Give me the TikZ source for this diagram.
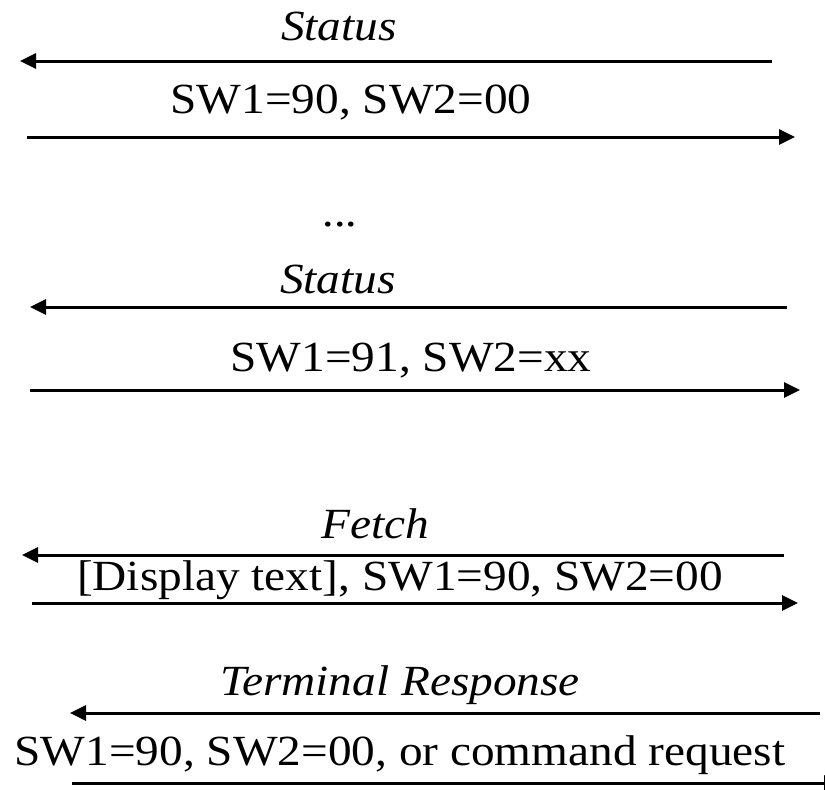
\documentclass[tikz,border=0pt]{standalone}
\usepackage{fontspec}
\setmainfont{Liberation Serif}[FakeStretch=1.1]
\usetikzlibrary{arrows.meta}

\begin{document}
\begin{tikzpicture}[x=1pt, y=-1pt,
    msg/.style={line width=3pt, -{Triangle[length=16pt,width=15pt]}},
    lbl/.style={anchor=base, inner sep=0pt, font=\fontsize{43}{48}\selectfont},
    cmd/.style={lbl, font=\fontsize{43}{48}\selectfont\itshape},
]
\useasboundingbox (0,0) rectangle (825,790);
\clip (0,0) rectangle (825,790);

% status polling
\node[cmd] (status1) at (339,40) {Status};
\coordinate (st1from) at (772,61);
\coordinate (st1to) at (20,61);
\draw[msg] (st1from) -- (st1to);
\node[lbl] (sw9000a) at (351,113) {SW1=90, SW2=00};
\coordinate (rs1from) at (27,137);
\coordinate (rs1to) at (795,137);
\draw[msg] (rs1from) -- (rs1to);

\node[cmd] (dots) at (341,226) {...};

\node[cmd] (status2) at (338,293) {Status};
\coordinate (st2from) at (787,307);
\coordinate (st2to) at (30,307);
\draw[msg] (st2from) -- (st2to);
\node[lbl] (sw91xx) at (411,371) {SW1=91, SW2=xx};
\coordinate (rs2from) at (30,390);
\coordinate (rs2to) at (800,390);
\draw[msg] (rs2from) -- (rs2to);

% fetch
\node[cmd] (fetch) at (375,538) {Fetch};
\coordinate (ftfrom) at (784,555);
\coordinate (ftto) at (22,555);
\draw[msg] (ftfrom) -- (ftto);
\node[lbl] (display) at (400,590) {[Display text], SW1=90, SW2=00};
\coordinate (rs3from) at (32,603);
\coordinate (rs3to) at (798,603);
\draw[msg] (rs3from) -- (rs3to);

% terminal response
\node[cmd] (termresp) at (400,695) {Terminal Response};
\coordinate (trfrom) at (820,713);
\coordinate (trto) at (70,713);
\draw[msg] (trfrom) -- (trto);
\node[lbl] (swlast) at (400,765) {SW1=90, SW2=00, or command request};
\coordinate (rs4from) at (72,783);
\coordinate (rs4to) at (840,783);
\draw[msg] (rs4from) -- (rs4to);
\end{tikzpicture}
\end{document}
